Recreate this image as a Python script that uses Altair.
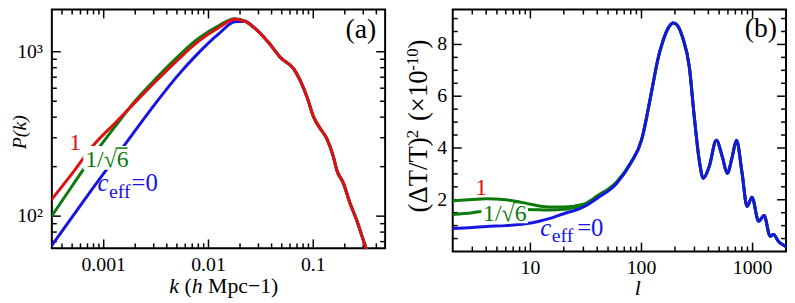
import altair as alt
import pandas as pd

FONT = "Liberation Serif, Times New Roman, Times, Nimbus Roman, DejaVu Serif, serif"
RED, GREEN, BLUE = "#dd1111", "#0c7a0c", "#1616e0"

# ---------------- panel (a): P(k) ----------------
k_low = [3.162e-4, 5.012e-4, 7.943e-4, 1.259e-3, 1.995e-3, 3.162e-3,
         5.012e-3, 7.943e-3, 1.259e-2, 1.778e-2]
pk_c1_low = [125.6, 182.0, 269.2, 363.9, 492.0, 663.7, 883.1, 1151, 1406, 1574]
pk_c16_low = [99.3, 153.1, 234.4, 345.1, 501.2, 688.7, 924.7, 1199, 1445, 1585]
pk_c0_low = [65.6, 99.1, 148.9, 222.3, 331.1, 489.8, 707.9, 977.2, 1288, 1520]
k_tail = [0.02239, 0.02742, 0.03656, 0.04887, 0.06531, 0.07534, 0.08730, 0.1009,
          0.1164, 0.1346, 0.1556, 0.1675, 0.1936, 0.2234, 0.2582, 0.2985, 0.3214]
pk_tail = [1531, 1396, 1159, 920.4, 783.4, 665.3, 528.4, 399.9,
           341.2, 296.5, 229.6, 191.0, 158.9, 120.5, 95.5, 72.4, 63.1]
a_xtick_vals = [0.001, 0.01, 0.1]
a_xtick_text = ["0.001", "0.01", "0.1"]
a_ytick_vals = [100, 1000]
a_ytick_text = ["10\u00b2", "10\u00b3"]

# ---------------- panel (b): (dT/T)^2 ----------------
l_low = [2, 3, 4, 6, 9, 12, 15, 20, 30, 40, 60, 80]
cl_c1_low = [1.96, 2.01, 2.04, 2.00, 1.87, 1.76, 1.72, 1.72, 1.83, 2.15, 2.70, 3.43]
cl_c16_low = [1.43, 1.50, 1.57, 1.62, 1.62, 1.61, 1.60, 1.63, 1.78, 2.10, 2.68, 3.42]
cl_c0_low = [0.89, 0.93, 0.97, 1.00, 1.07, 1.17, 1.28, 1.46, 1.72, 2.06, 2.64, 3.41]
l_tail = [100, 103.5, 115, 127, 140, 156, 175, 194, 212, 235, 270, 299, 331, 360,
          407, 472, 534, 592, 656, 716, 805, 892, 988, 1133, 1271, 1439, 1541,
          1707, 1955, 2000]
cl_tail = [4.30, 4.55, 5.50, 6.47, 7.40, 8.13, 8.65, 8.83, 8.72, 8.26, 7.11, 5.19,
           3.53, 2.83, 3.28, 4.30, 3.66, 3.02, 3.66, 4.30, 3.02, 1.74, 2.10, 1.17,
           1.39, 0.59, 0.66, 0.40, 0.21, 0.18]
b_xtick_vals = [10, 100, 1000]
b_xtick_text = ["10", "100", "1000"]
b_ytick_vals = [2, 4, 6, 8]
b_ytick_text = ["2", "4", "6", "8"]


def series(xl, yl, xt, yt, name):
    return pd.DataFrame({"x": xl + xt, "y": yl + yt, "s": name})


df_a = pd.concat([series(k_low, pk_c0_low, k_tail, pk_tail, "0"),
                  series(k_low, pk_c16_low, k_tail, pk_tail, "16"),
                  series(k_low, pk_c1_low, k_tail, pk_tail, "1")])
df_b = pd.concat([series(l_low, cl_c1_low, l_tail, cl_tail, "1"),
                  series(l_low, cl_c16_low, l_tail, cl_tail, "16"),
                  series(l_low, cl_c0_low, l_tail, cl_tail, "0")])


def log_minor(lo, hi):
    out = []
    for e in range(-5, 5):
        for m in range(2, 10):
            v = m * 10.0 ** e
            if lo < v < hi:
                out.append(v)
    return out


def one():
    return alt.Chart(alt.Data(values=[{}]))


def txt(s, x, y, size, color="black", style="normal", align="left", angle=0):
    return one().mark_text(font=FONT, fontSize=size, color=color, fontStyle=style,
                           align=align, baseline="alphabetic", angle=angle).encode(
        x=alt.value(x), y=alt.value(y), text=alt.value(s))


def box(x1, x2, y1, y2):
    return one().mark_rect(color="white").encode(
        x=alt.value(x1), x2=alt.value(x2), y=alt.value(y1), y2=alt.value(y2))


def frame(x1, x2, y1, y2):
    return one().mark_rect(fillOpacity=0, stroke="black", strokeWidth=2).encode(
        x=alt.value(x1), x2=alt.value(x2), y=alt.value(y1), y2=alt.value(y2))


def bar(x1, x2, y, color):
    return one().mark_rule(color=color, strokeWidth=1.5).encode(
        x=alt.value(x1), x2=alt.value(x2), y=alt.value(y))


def xticks(vals, xs, top, bot, size):
    d = pd.DataFrame({"v": vals})
    base = alt.Chart(d).mark_rule(color="black", strokeWidth=1.5)
    X = alt.X("v:Q", scale=xs, axis=None)
    return [base.encode(x=X, y=alt.value(bot), y2=alt.value(bot - size)),
            base.encode(x=X, y=alt.value(top), y2=alt.value(top + size))]


def yticks(vals, ys, left, right, size):
    d = pd.DataFrame({"v": vals})
    base = alt.Chart(d).mark_rule(color="black", strokeWidth=1.5)
    Y = alt.Y("v:Q", scale=ys, axis=None)
    return [base.encode(y=Y, x=alt.value(left), x2=alt.value(left + size)),
            base.encode(y=Y, x=alt.value(right), x2=alt.value(right - size))]


def xlabels(vals, texts, xs, y):
    d = pd.DataFrame({"v": vals, "t": texts})
    return alt.Chart(d).mark_text(font=FONT, fontSize=20, color="black", align="center",
                                  baseline="alphabetic").encode(
        x=alt.X("v:Q", scale=xs, axis=None), y=alt.value(y), text="t:N")


def ylabels(vals, texts, ys, x):
    d = pd.DataFrame({"v": vals, "t": texts})
    return alt.Chart(d).mark_text(font=FONT, fontSize=20, color="black", align="right",
                                  baseline="middle").encode(
        y=alt.Y("v:Q", scale=ys, axis=None), x=alt.value(x), text="t:N")


def lines(df, order, colors, xs, ys):
    out = []
    for s in order:
        out.append(alt.Chart(df).transform_filter(alt.datum.s == s).mark_line(
            color=colors[s], strokeWidth=3, clip=True, interpolate="monotone").encode(
            x=alt.X("x:Q", scale=xs, axis=None), y=alt.Y("y:Q", scale=ys, axis=None),
            order=alt.Order("x:Q")))
    return out


# plot-area geometry (one shared drawing area holding both panels)
AX0, AX1, AH = 0, 336.7, 241.3
BX0, BX1, BH = 405, 741.7, 244.5

# ---- panel a
xa_dom = [3.2e-4, 0.485]
ya_dom = [63.7, 1807]
xs_a = alt.Scale(type="log", domain=xa_dom, range=[AX0, AX1], nice=False)
ys_a = alt.Scale(type="log", domain=ya_dom, range=[AH, 0], nice=False)

layers = [frame(AX0, AX1, 0, AH)]
layers += xticks(a_xtick_vals, xs_a, 0, AH, 9) + xticks(log_minor(*xa_dom), xs_a, 0, AH, 5)
layers += yticks(a_ytick_vals, ys_a, AX0, AX1, 9) + yticks(log_minor(*ya_dom), ys_a, AX0, AX1, 5)
layers += lines(df_a, ["0", "16", "1"], {"0": BLUE, "16": GREEN, "1": RED}, xs_a, ys_a)
layers += [xlabels(a_xtick_vals, a_xtick_text, xs_a, AH + 23),
           ylabels(a_ytick_vals, a_ytick_text, ys_a, AX0 - 9)]
layers += [
    box(31.7, 74.7, 138, 162),
    txt("1", 17.7, 142, 24, RED),
    txt("1/\u221a6", 33.7, 158.7, 24, GREEN),
    bar(64.5, 76.5, 140, GREEN),
    txt("c", 46, 183.7, 25, BLUE, "italic"),
    txt("eff", 57.7, 190.3, 20, BLUE),
    txt("=0", 80.4, 183.7, 25, BLUE),
    txt("(a)", 327.7, 29, 28, "black", align="right"),
    txt("k", 118.7, 286, 22, style="italic"),
    txt("(", 134.0, 286, 22),
    txt("h", 141.3, 286, 22, style="italic"),
    txt("Mpc\u22121)", 157.8, 286, 22),
    txt("P(k)", -26, 124, 20, style="italic", align="center", angle=270),
]

# ---- panel b
xb_dom = [2, 2000]
yb_dom = [0, 9.35]
xs_b = alt.Scale(type="log", domain=xb_dom, range=[BX0, BX1], nice=False)
ys_b = alt.Scale(type="linear", domain=yb_dom, range=[BH, 0], nice=False, zero=False)
b_ymin = [v / 2 for v in range(1, 19) if v % 4 != 0]

layers += [frame(BX0, BX1, 0, BH)]
layers += xticks(b_xtick_vals, xs_b, 0, BH, 9) + xticks(log_minor(*xb_dom), xs_b, 0, BH, 5)
layers += yticks(b_ytick_vals, ys_b, BX0, BX1, 9) + yticks(b_ymin, ys_b, BX0, BX1, 5)
layers += lines(df_b, ["1", "16", "0"], {"1": GREEN, "16": GREEN, "0": BLUE}, xs_b, ys_b)
layers += [xlabels(b_xtick_vals, b_xtick_text, xs_b, BH + 22.5),
           ylabels(b_ytick_vals, b_ytick_text, ys_b, BX0 - 5.6)]
layers += [
    box(BX0 + 29, BX0 + 76, 198, 216),
    txt("1", BX0 + 22.7, 187, 24, RED),
    txt("1/\u221a6", BX0 + 30.7, 213.7, 24, GREEN),
    bar(BX0 + 61.5, BX0 + 73.5, 195, GREEN),
    txt("c", BX0 + 88.4, 228.7, 25, BLUE, "italic"),
    txt("eff", BX0 + 100, 235.3, 20, BLUE),
    txt("=0", BX0 + 125.7, 228.7, 25, BLUE),
    txt("(b)", BX0 + 327.7, 28, 28, "black", align="right"),
    txt("l", BX0 + 187, 288, 22, style="italic", align="center"),
    txt("(\u0394T/T)", BX0 - 26.3, 205, 27, angle=270),
    txt("2", BX0 - 35, 130, 17, angle=270),
    txt("(\u00d710", BX0 - 26.3, 112.7, 27, angle=270),
    txt("-10", BX0 - 35, 62, 17, angle=270),
    txt(")", BX0 - 26.3, 39.5, 27, angle=270),
]

chart = alt.layer(*layers).resolve_scale(x="independent", y="independent").properties(
    width=BX1, height=BH,
    autosize=alt.AutoSizeParams(type="none"),
    padding={"left": 44.3, "top": 0, "right": 1, "bottom": 50},
    background="white",
).configure_view(stroke=None)

chart.save("out.html", embed_options={"renderer": "svg", "actions": False})
